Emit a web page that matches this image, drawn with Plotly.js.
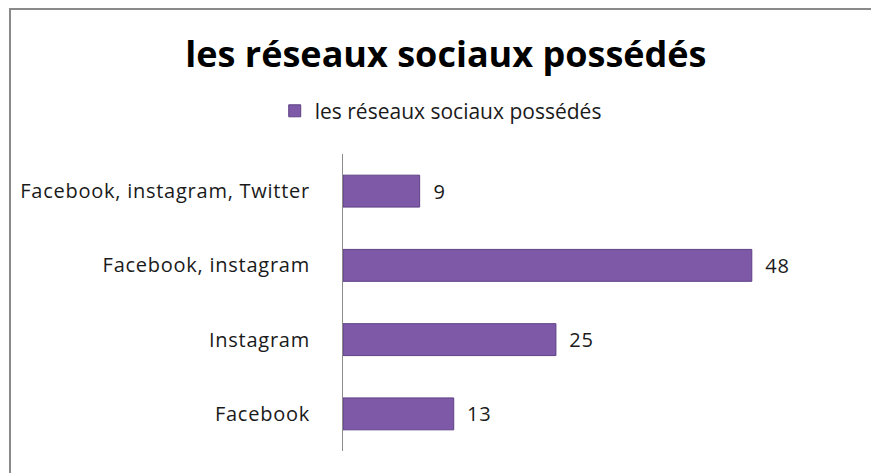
<!DOCTYPE html>
<html>
<head>
<meta charset="utf-8">
<script src="https://cdn.plot.ly/plotly-3.0.1.min.js"></script>
<style>
html,body{margin:0;padding:0;background:#fff;}
#wrap{position:relative;width:871px;height:473px;}
#chart{width:871px;height:473px;}
#frame{position:absolute;left:9px;top:8px;right:0;bottom:0;border-top:2px solid #8a8a8a;border-left:2px solid #8a8a8a;pointer-events:none;}
#chart .ytick text, #chart .bartext { letter-spacing: 0.75px; }
</style>
</head>
<body>
<div id="wrap"><div id="chart"></div><div id="frame"></div></div>
<script>
const categories = ["Facebook", "Instagram", "Facebook, instagram", "Facebook, instagram, Twitter"];
const values = [13, 25, 48, 9];
const seriesName = "les réseaux sociaux possédés";
const chartTitle = "les réseaux sociaux possédés";

const labelFont = {family: "Open Sans, sans-serif", size: 20, color: "#1a1a1a"};

const trace = {
  type: "bar",
  orientation: "h",
  y: categories,
  x: values,
  name: seriesName,
  showlegend: true,
  marker: {color: "#7d59a8", line: {color: "#5e4185", width: 1}},
  text: values.map(v => "  " + v),
  textposition: "outside",
  cliponaxis: false,
  textfont: labelFont,
  hoverinfo: "x+y"
};

const layout = {
  width: 871, height: 473,
  margin: {l: 343, r: 17, t: 154, b: 22},
  paper_bgcolor: "#fff", plot_bgcolor: "#fff",
  title: {text: chartTitle, font: {family: "Open Sans, sans-serif", size: 36, color: "#000", weight: "bold"},
          x: 0.512, xref: "container", xanchor: "center", y: 0.885, yref: "container", yanchor: "middle"},
  showlegend: true,
  legend: {orientation: "h", x: 0.506, xanchor: "center", xref: "container", y: 0.765, yref: "container", yanchor: "middle",
           font: {family: "Open Sans, sans-serif", size: 21, color: "#1a1a1a"}, itemwidth: 30},
  bargap: 0.57,
  xaxis: {range: [0, 60], showticklabels: false, showgrid: false, zeroline: false, showline: false, ticks: "", fixedrange: true},
  yaxis: {showline: true, linecolor: "#8c8c8c", linewidth: 1, ticks: "", showgrid: false, zeroline: false,
          tickfont: labelFont, ticklabelstandoff: 28, fixedrange: true}
};

Plotly.newPlot("chart", [trace], layout, {displayModeBar: false, staticPlot: true});
</script>
</body>
</html>
